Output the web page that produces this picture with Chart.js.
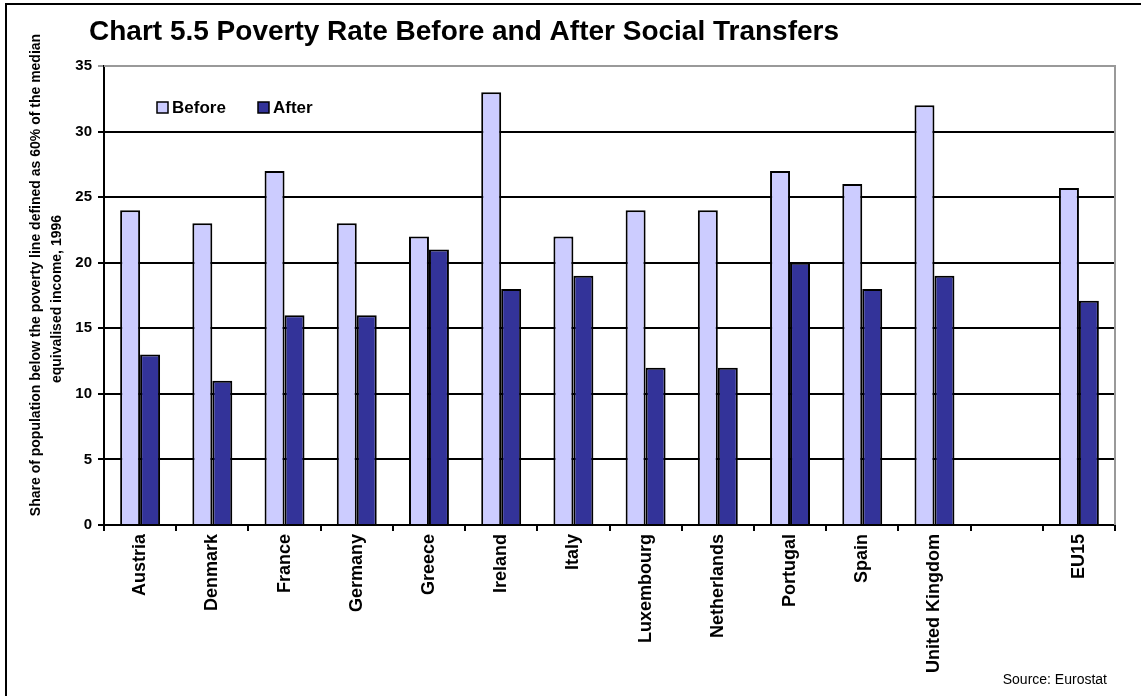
<!DOCTYPE html>
<html>
<head>
<meta charset="utf-8">
<script src="https://cdn.jsdelivr.net/npm/chart.js@4.4.1/dist/chart.umd.min.js"></script>
<style>
  body { margin: 0; background: #fff; }
  #wrap { width: 1141px; height: 696px; }
</style>
</head>
<body>
<div id="wrap"><canvas id="poverty-chart" width="1141" height="696"></canvas></div>
<script>
// Poverty rate before / after social transfers, 1996 (% of population)
var countries = ['Austria', 'Denmark', 'France', 'Germany', 'Greece', 'Ireland', 'Italy',
    'Luxembourg', 'Netherlands', 'Portugal', 'Spain', 'United Kingdom', '', 'EU15'];
var before = [24, 23, 27, 23, 22, 33, 22, 24, 24, 27, 26, 32, null, 25.7];
var after = [13, 11, 16, 16, 21, 18, 19, 12, 12, 20, 18, 19, null, 17.1];
var yTicks = [0, 5, 10, 15, 20, 25, 30, 35];

var FONT = 'Arial, "Liberation Sans", sans-serif';

// title, axis title, legend, source note and frame drawn straight onto the canvas
var decorations = {
    id: 'decorations',
    afterDraw: function(chart) {
        var c = chart.ctx;
        var area = chart.chartArea;
        c.save();

        // frame
        c.fillStyle = '#000';
        c.fillRect(5, 3, 1141, 2);
        c.fillRect(5, 3, 2, 696);

        // plot area edge, top and right
        c.strokeStyle = '#999';
        c.lineWidth = 2;
        c.beginPath();
        c.moveTo(area.left, area.top);
        c.lineTo(area.right, area.top);
        c.lineTo(area.right, area.bottom);
        c.stroke();

        // title
        c.fillStyle = '#000';
        c.font = 'bold 28px ' + FONT;
        c.textAlign = 'left';
        c.textBaseline = 'alphabetic';
        c.fillText('Chart 5.5 Poverty Rate Before and After Social Transfers', 89, 40);

        // y axis title
        c.font = 'bold 14px ' + FONT;
        c.textAlign = 'center';
        c.textBaseline = 'middle';
        c.save();
        c.translate(36, 275);
        c.rotate(-Math.PI / 2);
        c.fillText('Share of population below the poverty line defined as 60% of the median', 0, 0);
        c.restore();
        c.save();
        c.translate(57, 299);
        c.rotate(-Math.PI / 2);
        c.fillText('equivalised income, 1996', 0, 0);
        c.restore();

        // legend
        var items = [{ x: 157, ds: 0 }, { x: 258, ds: 1 }];
        c.font = 'bold 17px ' + FONT;
        c.textAlign = 'left';
        c.textBaseline = 'middle';
        items.forEach(function(it) {
            var ds = chart.data.datasets[it.ds];
            c.fillStyle = ds.backgroundColor;
            c.fillRect(it.x, 102, 11, 11);
            c.strokeStyle = '#000';
            c.lineWidth = 1.5;
            c.strokeRect(it.x, 102, 11, 11);
            c.fillStyle = '#000';
            c.fillText(ds.label, it.x + 15, 108);
        });

        // source
        c.font = '14px ' + FONT;
        c.textAlign = 'right';
        c.textBaseline = 'alphabetic';
        c.fillText('Source: Eurostat', 1107, 684);

        c.restore();
    }
};

var ctx = document.getElementById('poverty-chart').getContext('2d');
var povertyChart = new Chart(ctx, {
    type: 'bar',
    data: {
        labels: countries,
        datasets: [{
            label: 'Before',
            data: before,
            backgroundColor: '#CCCCFF',
            borderColor: '#000',
            borderWidth: 2
        }, {
            label: 'After',
            data: after,
            backgroundColor: '#333399',
            borderColor: '#000',
            borderWidth: 2
        }]
    },
    options: {
        responsive: false,
        animation: false,
        layout: {
            padding: { top: 66, right: 26, bottom: 0, left: 0 }
        },
        datasets: {
            bar: {
                barPercentage: 1,
                categoryPercentage: 0.553
            }
        },
        plugins: {
            legend: { display: false },
            title: { display: false },
            tooltip: { enabled: false }
        },
        scales: {
            x: {
                offset: true,
                afterFit: function(scale) { scale.height = 171; },
                grid: {
                    offset: true,
                    drawOnChartArea: false,
                    drawTicks: true,
                    tickLength: 6,
                    color: '#000',
                    lineWidth: 2
                },
                border: { display: true, color: '#000', width: 2 },
                ticks: {
                    autoSkip: false,
                    minRotation: 90,
                    maxRotation: 90,
                    padding: 3,
                    color: '#000',
                    font: { family: FONT, size: 18, weight: 'bold' }
                }
            },
            y: {
                min: 0,
                max: 35,
                afterFit: function(scale) { scale.width = 104; },
                afterBuildTicks: function(scale) {
                    scale.ticks = yTicks.map(function(v) { return { value: v }; });
                },
                grid: {
                    drawTicks: true,
                    tickLength: 6,
                    lineWidth: 2,
                    color: function(ctx) {
                        return ctx.tick && ctx.tick.value === 35 ? '#999' : '#000';
                    }
                },
                border: { display: true, color: '#000', width: 2 },
                ticks: {
                    padding: 6,
                    color: '#000',
                    font: { family: FONT, size: 15, weight: 'bold' }
                }
            }
        }
    },
    plugins: [decorations]
});
</script>
</body>
</html>
